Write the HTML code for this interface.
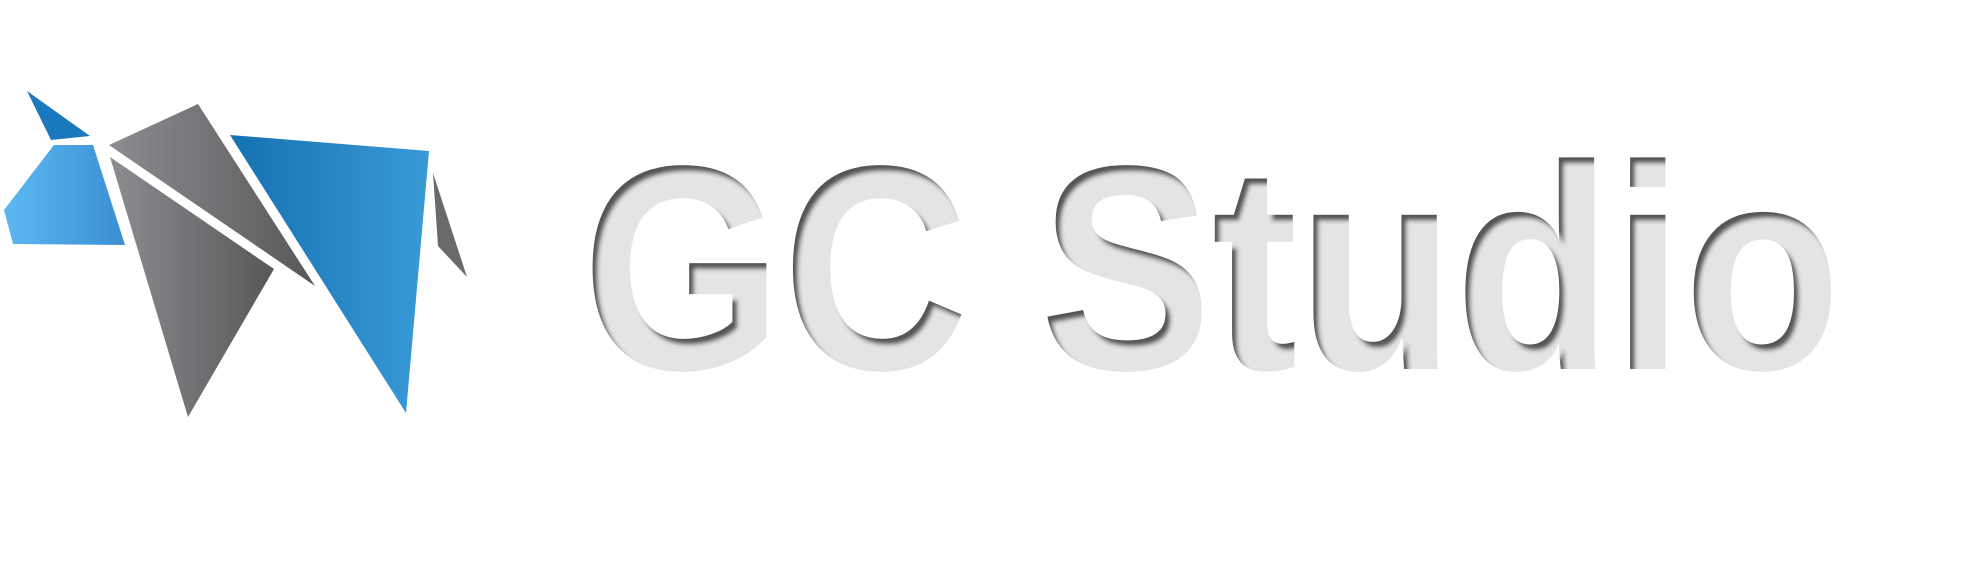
<!DOCTYPE html>
<html><head><meta charset="utf-8"><style>
html,body{margin:0;padding:0;background:#fff;width:1981px;height:571px;overflow:hidden}
svg{display:block}
</style></head><body>
<svg width="1981" height="571" viewBox="0 0 1981 571" xmlns="http://www.w3.org/2000/svg">
<defs>
<linearGradient id="gBlueL" x1="0" x2="1" y1="0" y2="0"><stop offset="0" stop-color="#5cb8f2"/><stop offset="1" stop-color="#3a8fd2"/></linearGradient>
<linearGradient id="gGray" x1="0" x2="1" y1="0" y2="0"><stop offset="0" stop-color="#8c8d90"/><stop offset="1" stop-color="#58585a"/></linearGradient>
<linearGradient id="gBlue" x1="0" x2="1" y1="0" y2="0"><stop offset="0" stop-color="#1570b0"/><stop offset="1" stop-color="#3a9ad8"/></linearGradient>
<filter id="inner" x="-5%" y="-5%" width="110%" height="110%">
<feOffset in="SourceAlpha" dx="5" dy="6" result="off"/>
<feGaussianBlur in="off" stdDeviation="2" result="b"/>
<feComposite in="SourceAlpha" in2="b" operator="out" result="edge"/>
<feFlood flood-color="#555"/>
<feComposite in2="edge" operator="in" result="sh"/>
<feMerge><feMergeNode in="SourceGraphic"/><feMergeNode in="sh"/></feMerge>
</filter>
</defs>
<g>
<polygon points="27,91 90,136 51,140" fill="#1a78bc"/>
<polygon points="54,145 93,145 125,245 13,244 4,210" fill="url(#gBlueL)"/>
<polygon points="198,104 109,145 315,286" fill="url(#gGray)"/>
<polygon points="110,157 274,269 188,417" fill="url(#gGray)"/>
<polygon points="230,135 429,151 406,413" fill="url(#gBlue)"/>
<polygon points="433,173 467,277 438,246" fill="#6a6a6c"/>
</g>
<text x="582" y="369" textLength="1259" lengthAdjust="spacingAndGlyphs" font-family="Liberation Sans, sans-serif" font-weight="bold" font-size="292" fill="#e4e4e4" filter="url(#inner)">GC Studio</text>
</svg>
</body></html>
